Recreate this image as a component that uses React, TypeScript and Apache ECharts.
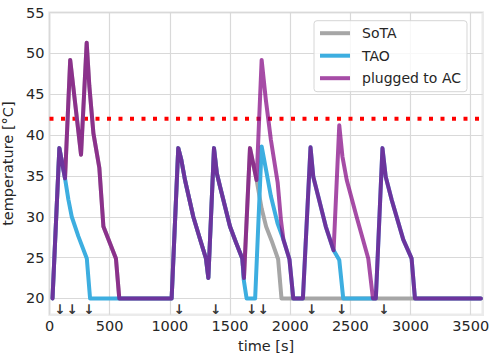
import React, { useEffect, useRef } from "react";
import * as echarts from "echarts";

// time [s], temperature [°C]
const sotaPoints: [number, number][] = [
  [25, 20], [82, 38.4], [129, 34.7], [172, 49.2], [262, 37.6], [309, 51.3], [331, 46], [365, 40.2],
  [414, 36], [448, 28.8], [552, 24.9], [580, 20], [1015, 20], [1070, 38.4], [1095, 37], [1126, 34.5],
  [1195, 30], [1248, 27.4], [1300, 24.9], [1320, 22.5], [1367, 38.4], [1391, 35.3], [1417, 33.7],
  [1500, 28.8], [1551, 26.8], [1602, 24.9], [1616, 22.5], [1666, 38.4], [1721, 34.5], [1763, 31],
  [1800, 28.8], [1845, 27.1], [1900, 24.8], [1928, 20], [3585, 20],
];

const taoPoints: [number, number][] = [
  [25, 20], [82, 38.4], [129, 34.7], [157, 32.1], [185, 30], [240, 27.6], [310, 24.9], [337, 20],
  [1015, 20], [1070, 38.4], [1095, 37], [1126, 34.5], [1195, 30], [1248, 27.4], [1300, 24.9],
  [1320, 22.5], [1367, 38.4], [1391, 35.3], [1417, 33.7], [1500, 28.8], [1551, 26.8], [1602, 24.9],
  [1614, 22.3], [1638, 20], [1709, 20], [1763, 38.6], [1800, 35.7], [1840, 32.5], [1895, 29.2],
  [1944, 27.2], [1994, 24.8], [2026, 20], [2106, 20], [2169, 38.5], [2192, 34.9], [2233, 32.5],
  [2296, 28.8], [2361, 25.9], [2408, 24.7], [2441, 20], [2688, 20], [2712, 20], [2767, 38.4],
  [2794, 34.9], [2843, 32.1], [2940, 27.2], [3009, 24.9], [3037, 20], [3585, 20],
];

const acPoints: [number, number][] = [
  [25, 20], [82, 38.4], [129, 34.7], [172, 49.2], [262, 37.6], [309, 51.3], [331, 46], [365, 40.2],
  [414, 36], [448, 28.8], [552, 24.9], [580, 20], [1015, 20], [1070, 38.4], [1095, 37], [1126, 34.5],
  [1195, 30], [1248, 27.4], [1300, 24.9], [1320, 22.5], [1367, 38.4], [1391, 35.3], [1417, 33.7],
  [1500, 28.8], [1551, 26.8], [1602, 24.9], [1616, 22.5], [1666, 38.4], [1721, 34.5], [1763, 49.2],
  [1798, 44.3], [1840, 39.4], [1896, 34.2], [1924, 29.5], [1944, 27.2], [1994, 24.8], [2026, 20],
  [2106, 20], [2169, 38.5], [2192, 34.9], [2233, 32.5], [2296, 28.8], [2361, 25.9], [2408, 41.2],
  [2434, 37.4], [2470, 34.5], [2552, 30], [2649, 24.9], [2688, 20], [2712, 20], [2767, 38.4],
  [2794, 34.9], [2843, 32.1], [2940, 27.2], [3009, 24.9], [3037, 20], [3585, 20],
];

const thresholdTemp = 42;
const thresholdSpan = [0, 3600];
const arrowTimes = [87, 189, 328, 1078, 1381, 1680, 1776, 2179, 2428, 2780];
const arrowLevel = 18.77;
const xTicks = [0, 500, 1000, 1500, 2000, 2500, 3000, 3500];
const yTicks = [20, 25, 30, 35, 40, 45, 50, 55];
const seriesNames = ["SoTA", "TAO", "plugged to AC"];

const FONT = "DejaVu Sans";
const TEXT = "#262626";
const GRAY = "#a6a6a6";
const BLUE = "#3daee0";
const PURPLE = "#800080";

export default function App() {
  const ref = useRef<HTMLDivElement>(null);
  useEffect(() => {
    const chart = echarts.init(ref.current!, null, { renderer: "svg" });
    const lineBase = {
      type: "line",
      symbol: "none",
      showSymbol: false,
      silent: true,
    };
    chart.setOption({
      animation: false,
      textStyle: { fontFamily: FONT },
      grid: {
        left: 49.5,
        right: 15.3,
        top: 12.5,
        bottom: 46.2,
        containLabel: false,
        outerBoundsMode: "none",
        show: true,
        borderColor: "#ebebeb",
        borderWidth: 2.5,
        backgroundColor: "transparent",
      },
      xAxis: {
        type: "value",
        min: 0,
        max: 3600,
        axisLine: { show: false },
        axisTick: { show: false, customValues: xTicks },
        axisLabel: {
          customValues: xTicks,
          formatter: (v: number) => String(v),
          fontSize: 14.5,
          color: TEXT,
          margin: 4,
          fontFamily: FONT,
        },
        splitLine: { show: true, lineStyle: { color: "#d9d9d9", width: 1.2 } },
        name: "time [s]",
        nameLocation: "middle",
        nameGap: 22,
        nameTextStyle: { fontSize: 14.5, color: TEXT, fontFamily: FONT },
      },
      yAxis: {
        type: "value",
        min: 18,
        max: 55,
        axisLine: { show: false },
        axisTick: { show: false, customValues: yTicks },
        axisLabel: {
          customValues: yTicks,
          formatter: (v: number) => String(v),
          fontSize: 14.5,
          color: TEXT,
          margin: 5,
          fontFamily: FONT,
        },
        splitLine: { show: true, lineStyle: { color: "#d9d9d9", width: 1.2 } },
        name: "temperature [°C]",
        nameLocation: "middle",
        nameGap: 26,
        nameTextStyle: { fontSize: 14.5, color: TEXT, fontFamily: FONT },
      },
      legend: {
        data: [
          { name: seriesNames[0], itemStyle: { color: GRAY } },
          { name: seriesNames[1], itemStyle: { color: BLUE } },
          { name: seriesNames[2], itemStyle: { color: "#a64ca6" } },
        ],
        orient: "vertical",
        left: 314,
        top: 20.7,
        icon: "rect",
        itemWidth: 30,
        itemHeight: 4,
        itemGap: 6.5,
        padding: [4.5, 6, 5.5, 6],
        borderColor: "#d6d6d6",
        borderWidth: 1,
        borderRadius: 3,
        backgroundColor: "rgba(255,255,255,0.8)",
        selectedMode: false,
        textStyle: { fontSize: 14, color: TEXT, lineHeight: 16, padding: [0, 0, 0, 7], fontFamily: FONT },
      },
      series: [
        {
          ...lineBase,
          name: "threshold",
          data: thresholdSpan.map((t) => [t, thresholdTemp]),
          lineStyle: { color: "#ff0000", width: 4, type: [4, 7.5], cap: "butt" },
          z: 1,
        },
        {
          ...lineBase,
          name: seriesNames[0],
          data: sotaPoints,
          itemStyle: { color: GRAY },
          lineStyle: { color: GRAY, width: 4, cap: "round", join: "round" },
          z: 2,
        },
        {
          ...lineBase,
          name: seriesNames[1],
          data: taoPoints,
          itemStyle: { color: BLUE },
          lineStyle: { color: BLUE, width: 4, cap: "round", join: "round" },
          z: 3,
        },
        {
          ...lineBase,
          name: seriesNames[2],
          data: acPoints,
          itemStyle: { color: PURPLE },
          lineStyle: { color: PURPLE, width: 4, opacity: 0.7, cap: "round", join: "round" },
          z: 4,
        },
        {
          type: "scatter",
          name: "arrows",
          silent: true,
          symbolSize: 1,
          itemStyle: { color: "rgba(0,0,0,0)" },
          data: arrowTimes.map((t) => [t, arrowLevel]),
          label: {
            show: true,
            position: "inside",
            formatter: "↓",
            fontSize: 13.5,
            fontWeight: "bold",
            color: "#000",
            fontFamily: FONT,
          },
          z: 5,
        },
      ],
    });
    return () => chart.dispose();
  }, []);
  return (
    <div
      ref={ref}
      style={{ position: "fixed", left: 0, top: 0, width: 498, height: 361, background: "#fff" }}
    />
  );
}
